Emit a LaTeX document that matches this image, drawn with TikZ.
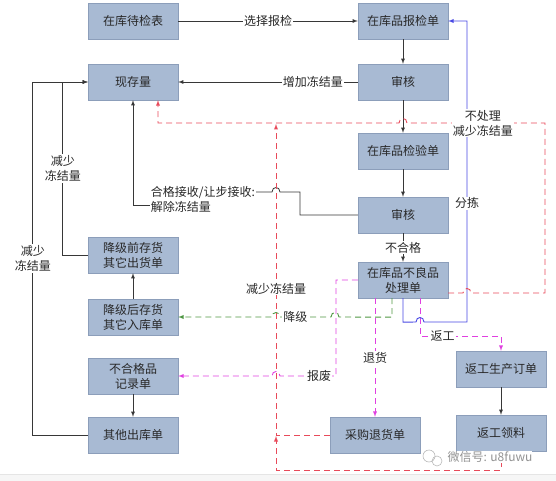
\documentclass[tikz,border=0pt]{standalone}
\usepackage{fontspec}
\setmainfont{Noto Sans CJK SC}
\usetikzlibrary{calc}

\definecolor{boxfill}{RGB}{168,186,211}
\definecolor{boxline}{RGB}{140,158,186}
\definecolor{txt}{RGB}{40,40,40}
\definecolor{lk}{RGB}{55,55,55}
\definecolor{redln}{RGB}{232,74,90}
\definecolor{pinkln}{RGB}{224,64,224}
\definecolor{greenln}{RGB}{78,150,66}
\definecolor{blueln}{RGB}{72,72,228}

\begin{document}
\begin{tikzpicture}[x=1pt,y=-1pt,
  box/.style={draw=boxline,fill=boxfill,minimum width=90pt,minimum height=36pt,
    inner sep=1pt,align=center,text=txt,font=\fontsize{12}{15}\selectfont},
  lbl/.style={fill=white,inner sep=1pt,align=center,text=txt,font=\fontsize{12}{15}\selectfont},
  arr/.style={draw=lk,line width=0.8pt,-latex},
  redarr/.style={draw=redln,line width=0.9pt,dash pattern=on 6pt off 4pt,-latex},
  pinkarr/.style={draw=pinkln,line width=0.9pt,dash pattern=on 6pt off 4pt,-latex},
  greenarr/.style={draw=greenln,line width=0.9pt,dash pattern=on 6pt off 4pt,-latex},
  bluearr/.style={draw=blueln,line width=0.9pt,-latex}]
  \useasboundingbox (0,0) rectangle (556,481);
  \fill[gray!7] (0,474) rectangle (556,481);
  \draw[gray!20] (0,474) -- (556,474);

  % left column
  \node[box] (dj) at (133,21) {在库待检表};
  \node[box] (xcl) at (133,82) {现存量};
  \node[box] (jqc) at (133,255) {降级前存货\\其它出货单};
  \node[box] (jhc) at (133,317) {降级后存货\\其它入库单};
  \node[box] (bhg) at (133,376) {不合格品\\记录单};
  \node[box] (qtck) at (133,435) {其他出库单};

  % middle column
  \node[box] (bj) at (403,21) {在库品报检单};
  \node[box] (sh1) at (403,82) {审核};
  \node[box] (jy) at (403,151) {在库品检验单};
  \node[box] (sh2) at (403,215) {审核};
  \node[box] (blp) at (403,280) {在库品不良品\\处理单};
  \node[box] (cgth) at (375,435) {采购退货单};

  % right column
  \node[box] (fgdd) at (501,369) {返工生产订单};
  \node[box] (fgll) at (501,433) {返工领料};

  % main flow
  \draw[arr] (dj) -- node[lbl]{选择报检} (bj);
  \draw[arr] (bj) -- (sh1);
  \draw[arr] (sh1) -- node[lbl,pos=0.25]{增加冻结量} (xcl);
  \draw[arr] (sh1) -- (jy);
  \draw[arr] (jy) -- (sh2);
  \draw[arr] (sh2) -- node[lbl]{不合格} (blp);
  \draw[arr] (jhc) -- (jqc);
  \draw[arr] (bhg) -- (qtck);
  \draw[arr] (fgdd) -- (fgll);

  % accepted: release frozen quantity
  \node[lbl,align=left] (hgjs) at (203,199) {合格接收/让步接收:\\解除冻结量};
  \coordinate (k1) at (300,192);
  \coordinate (k2) at (0,205);
  \draw[draw=lk,line width=0.8pt] (sh2.west) -- (300,215) -- (k1) -- (280,192)
    .. controls (280,186) and (272,186) .. (272,192) -- (k1 -| hgjs.east);
  \draw[arr] (k2 -| hgjs.west) -- (k2 -| xcl.south) -- (xcl.south);

  % reduce frozen quantity (left)
  \draw[arr] (jqc.west) -- ++(-25,0) |- node[lbl,pos=0.25]{减少\\冻结量} (xcl.west);
  \draw[arr] (qtck.west) -- ++(-55,0) |- node[lbl,pos=0.25]{减少\\冻结量} (xcl.west);

  % downgrade
  \draw[greenarr] ([xshift=-11pt]blp.south) -- ++(0,19) -- (339,317)
    .. controls (339,311) and (331,311) .. (331,317)
    -- node[lbl,pos=0.7]{降级} (280,317)
    .. controls (280,311) and (272,311) .. (272,317) -- (jhc.east);

  % scrap, return, rework
  \draw[pinkarr] (blp.west) -- (336,280) -- (336,376)
    -- node[lbl,pos=0.3]{报废} (280,376)
    .. controls (280,370) and (272,370) .. (272,376) -- (bhg.east);
  \draw[pinkarr] ([xshift=-28pt]blp.south) -- node[lbl]{退货} (cgth.north);
  \draw[pinkarr] ([xshift=17pt]blp.south) -- ++(0,38) -| node[lbl,pos=0.14]{返工} (fgdd.north);

  % sorting
  \draw[bluearr] (blp.south) -- ++(0,24) -- (416,322)
    .. controls (416,316) and (424,316) .. (424,322) -- (467,322)
    -- node[lbl,pos=0.395]{分拣} (467,21) -- (bj.east);

  % red dashed returns to stock
  \draw[redarr] ([yshift=-13pt]blp.east) -- (463,293)
    .. controls (463,287) and (471,287) .. (471,293) -- (545,293) -- (545,123)
    -- node[lbl,pos=0.45]{不处理\\减少冻结量} (407,123)
    .. controls (407,117) and (399,117) .. (399,123) -- (158,123)
    -- ([xshift=25pt]xcl.south);
  \draw[redarr] (cgth.west) -- (276,435) -- node[lbl,pos=0.47]{减少冻结量} (276,124);
  \draw[redarr] (fgll.south) |- (276,470) -- (276,436);

  % watermark
  \draw[gray!55,line width=0.6pt] (429,456) circle (6);
  \draw[gray!55,line width=0.6pt] (437,461) circle (5);
  \node[fill=white,inner sep=0pt,text=gray!85,font=\fontsize{12}{14}\selectfont] (wm) at (490,457) {微信号: u8fuwu};
\end{tikzpicture}
\end{document}
